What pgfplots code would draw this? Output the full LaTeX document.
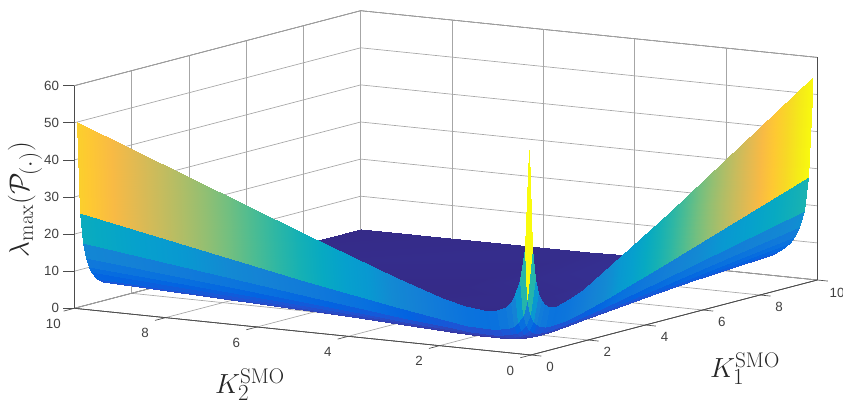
\documentclass[border=0pt]{standalone}
\usepackage{fontspec}
\newfontfamily\ticksf{Liberation Sans}
\usepackage{pgfplots}
\pgfplotsset{compat=1.18}
\pgfplotsset{colormap={parula}{rgb=(0.2081,0.1663,0.5292) rgb=(0.2081,0.2386,0.6771) rgb=(0.1253,0.3242,0.8303) rgb=(0.0117,0.3875,0.8820) rgb=(0.0329,0.4430,0.8720) rgb=(0.0629,0.4737,0.8554) rgb=(0.0779,0.5040,0.8384) rgb=(0.0749,0.5375,0.8263) rgb=(0.0343,0.5966,0.8199) rgb=(0.0239,0.6287,0.8038) rgb=(0.0267,0.6642,0.7607) rgb=(0.0843,0.6928,0.7062) rgb=(0.1801,0.7177,0.6424) rgb=(0.3022,0.7376,0.5712) rgb=(0.4420,0.7481,0.5033) rgb=(0.5709,0.7485,0.4494) rgb=(0.6834,0.7435,0.4044) rgb=(0.7858,0.7356,0.3633) rgb=(0.8824,0.7274,0.3217) rgb=(0.9739,0.7314,0.2666) rgb=(0.9955,0.7861,0.1967) rgb=(0.9697,0.8481,0.1475) rgb=(0.9598,0.9218,0.0948) rgb=(0.9763,0.9831,0.0538)}}
\pgfplotstableread[row sep=\\]{
x y z m\\
.1 .1 55.05 55\\ .1 .2 28.27 55\\ .1 .2 28.27 28.3\\ .1 .3 19.68 28.3\\ .1 .3 19.68 19.7\\ .1 .4 15.64 19.7\\ .1 .4 15.64 15.6\\ .1 .5 13.41 15.6\\ .1 .5 13.41 13.4\\ .1 .6 12.09 13.4\\ .1 .6 12.09 12.1\\ .1 .8 10.82 12.1\\ .1 .8 10.82 10.8\\ .1 1 10.45 10.8\\ .1 1 10.45 10.5\\ .1 1.5 11.14 11.1\\ .1 2 12.73 12.7\\ .1 3 16.82 16.8\\ .1 5 26.09 26.1\\ .1 10 50.1 49\\
.2 .1 28.34 55\\ .2 .2 14.55 55\\ .2 .2 14.55 28.3\\ .2 .3 10.11 28.3\\ .2 .3 10.11 19.7\\ .2 .4 8.02 19.7\\ .2 .4 8.02 15.6\\ .2 .5 6.87 15.6\\ .2 .5 6.87 13.4\\ .2 .6 6.18 13.4\\ .2 .6 6.18 12.1\\ .2 .8 5.51 12.1\\ .2 .8 5.51 10.8\\ .2 1 5.31 10.8\\ .2 1 5.31 10.5\\ .2 1.5 5.62 11.1\\ .2 2 6.40 12.7\\ .2 3 8.44 16.8\\ .2 5 13.06 26.1\\ .2 10 25.28 49\\
.2 .1 28.34 28.3\\ .2 .2 14.55 28.3\\ .2 .2 14.55 14.6\\ .2 .3 10.11 14.6\\ .2 .3 10.11 10.1\\ .2 .4 8.02 10.1\\ .2 .4 8.02 8\\ .2 .5 6.87 8\\ .2 .5 6.87 6.9\\ .2 .6 6.18 6.9\\ .2 .6 6.18 6.2\\ .2 .8 5.51 6.2\\ .2 .8 5.51 5.5\\ .2 1 5.31 5.5\\ .2 1 5.31 5.3\\ .2 1.5 5.62 5.6\\ .2 2 6.40 6.4\\ .2 3 8.44 8.4\\ .2 5 13.06 13.1\\ .2 10 25.28 25.3\\
.3 .1 19.81 28.3\\ .3 .2 10.15 28.3\\ .3 .2 10.15 14.6\\ .3 .3 7.05 14.6\\ .3 .3 7.05 10.1\\ .3 .4 5.58 10.1\\ .3 .4 5.58 8\\ .3 .5 4.76 8\\ .3 .5 4.76 6.9\\ .3 .6 4.27 6.9\\ .3 .6 4.27 6.2\\ .3 .8 3.79 6.2\\ .3 .8 3.79 5.5\\ .3 1 3.63 5.5\\ .3 1 3.63 5.3\\ .3 1.5 3.81 5.6\\ .3 2 4.31 6.4\\ .3 3 5.65 8.4\\ .3 5 8.72 13.1\\ .3 10 16.87 25.3\\
.3 .1 19.81 19.8\\ .3 .2 10.15 19.8\\ .3 .2 10.15 10.2\\ .3 .3 7.05 10.2\\ .3 .3 7.05 7.1\\ .3 .4 5.58 7.1\\ .3 .4 5.58 5.6\\ .3 .5 4.76 5.6\\ .3 .5 4.76 4.8\\ .3 .6 4.27 4.8\\ .3 .6 4.27 4.3\\ .3 .8 3.79 4.3\\ .3 .8 3.79 3.8\\ .3 1 3.63 3.8\\ .3 1 3.63 3.6\\ .3 1.5 3.81 3.8\\ .3 2 4.31 4.3\\ .3 3 5.65 5.7\\ .3 5 8.72 8.7\\ .3 10 16.87 16.9\\
.4 .1 15.82 19.8\\ .4 .2 8.09 19.8\\ .4 .2 8.09 10.2\\ .4 .3 5.61 10.2\\ .4 .3 5.61 7.1\\ .4 .4 4.42 7.1\\ .4 .4 4.42 5.6\\ .4 .5 3.77 5.6\\ .4 .5 3.77 4.8\\ .4 .6 3.36 4.8\\ .4 .6 3.36 4.3\\ .4 .8 2.96 4.3\\ .4 .8 2.96 3.8\\ .4 1 2.82 3.8\\ .4 1 2.82 3.6\\ .4 1.5 2.93 3.8\\ .4 2 3.28 4.3\\ .4 3 4.27 5.7\\ .4 5 6.56 8.7\\ .4 10 12.66 16.9\\
.4 .1 15.82 15.8\\ .4 .2 8.09 15.8\\ .4 .2 8.09 8.1\\ .4 .3 5.61 8.1\\ .4 .3 5.61 5.6\\ .4 .4 4.42 5.6\\ .4 .4 4.42 4.4\\ .4 .5 3.77 4.4\\ .4 .5 3.77 3.8\\ .4 .6 3.36 3.8\\ .4 .6 3.36 3.4\\ .4 .8 2.96 3.4\\ .4 .8 2.96 3\\ .4 1 2.82 3\\ .4 1 2.82 2.8\\ .4 1.5 2.93 2.9\\ .4 2 3.28 3.3\\ .4 3 4.27 4.3\\ .4 5 6.56 6.6\\ .4 10 12.66 12.7\\
.5 .1 13.64 15.8\\ .5 .2 6.97 15.8\\ .5 .2 6.97 8.1\\ .5 .3 4.81 8.1\\ .5 .3 4.81 5.6\\ .5 .4 3.78 5.6\\ .5 .4 3.78 4.4\\ .5 .5 3.21 4.4\\ .5 .5 3.21 3.8\\ .5 .6 2.86 3.8\\ .5 .6 2.86 3.4\\ .5 .8 2.49 3.4\\ .5 .8 2.49 3\\ .5 1 2.35 3\\ .5 1 2.35 2.8\\ .5 1.5 2.40 2.9\\ .5 2 2.68 3.3\\ .5 3 3.45 4.3\\ .5 5 5.27 6.6\\ .5 10 10.14 12.7\\
.5 .1 13.64 13.6\\ .5 .2 6.97 13.6\\ .5 .2 6.97 7\\ .5 .3 4.81 7\\ .5 .3 4.81 4.8\\ .5 .4 3.78 4.8\\ .5 .4 3.78 3.8\\ .5 .5 3.21 3.8\\ .5 .5 3.21 3.2\\ .5 .6 2.86 3.2\\ .5 .6 2.86 2.9\\ .5 .8 2.49 2.9\\ .5 .8 2.49 2.5\\ .5 1 2.35 2.5\\ .5 1 2.35 2.4\\ .5 1.5 2.40 2.4\\ .5 2 2.68 2.7\\ .5 3 3.45 3.5\\ .5 5 5.27 5.3\\ .5 10 10.14 10.1\\
.6 .1 12.36 13.6\\ .6 .2 6.31 13.6\\ .6 .2 6.31 7\\ .6 .3 4.34 7\\ .6 .3 4.34 4.8\\ .6 .4 3.40 4.8\\ .6 .4 3.40 3.8\\ .6 .5 2.88 3.8\\ .6 .5 2.88 3.2\\ .6 .6 2.55 3.2\\ .6 .6 2.55 2.9\\ .6 .8 2.21 2.9\\ .6 .8 2.21 2.5\\ .6 1 2.06 2.5\\ .6 1 2.06 2.4\\ .6 1.5 2.07 2.4\\ .6 2 2.28 2.7\\ .6 3 2.91 3.5\\ .6 5 4.42 5.3\\ .6 10 8.45 10.1\\
.6 .1 12.36 12.4\\ .6 .2 6.31 12.4\\ .6 .2 6.31 6.3\\ .6 .3 4.34 6.3\\ .6 .3 4.34 4.3\\ .6 .4 3.40 4.3\\ .6 .4 3.40 3.4\\ .6 .5 2.88 3.4\\ .6 .5 2.88 2.9\\ .6 .6 2.55 2.9\\ .6 .6 2.55 2.6\\ .6 .8 2.21 2.6\\ .6 .8 2.21 2.2\\ .6 1 2.06 2.2\\ .6 1 2.06 2.1\\ .6 1.5 2.07 2.1\\ .6 2 2.28 2.3\\ .6 3 2.91 2.9\\ .6 5 4.42 4.4\\ .6 10 8.45 8.5\\
.8 .1 11.19 12.4\\ .8 .2 5.69 12.4\\ .8 .2 5.69 6.3\\ .8 .3 3.90 6.3\\ .8 .3 3.90 4.3\\ .8 .4 3.03 4.3\\ .8 .4 3.03 3.4\\ .8 .5 2.54 3.4\\ .8 .5 2.54 2.9\\ .8 .6 2.24 2.9\\ .8 .6 2.24 2.6\\ .8 .8 1.89 2.6\\ .8 .8 1.89 2.2\\ .8 1 1.74 2.2\\ .8 1 1.74 2.1\\ .8 1.5 1.68 2.1\\ .8 2 1.81 2.3\\ .8 3 2.25 2.9\\ .8 5 3.35 4.4\\ .8 10 6.36 8.5\\
.8 .1 11.19 11.2\\ .8 .2 5.69 11.2\\ .8 .2 5.69 5.7\\ .8 .3 3.90 5.7\\ .8 .3 3.90 3.9\\ .8 .4 3.03 3.9\\ .8 .4 3.03 3\\ .8 .5 2.54 3\\ .8 .5 2.54 2.5\\ .8 .6 2.24 2.5\\ .8 .6 2.24 2.2\\ .8 .8 1.89 2.2\\ .8 .8 1.89 1.9\\ .8 1 1.74 1.9\\ .8 1 1.74 1.7\\ .8 1.5 1.68 1.7\\ .8 2 1.81 1.8\\ .8 3 2.25 2.3\\ .8 5 3.35 3.4\\ .8 10 6.36 6.4\\
1 .1 10.92 11.2\\ 1 .2 5.54 11.2\\ 1 .2 5.54 5.7\\ 1 .3 3.77 5.7\\ 1 .3 3.77 3.9\\ 1 .4 2.92 3.9\\ 1 .4 2.92 3\\ 1 .5 2.42 3\\ 1 .5 2.42 2.5\\ 1 .6 2.11 2.5\\ 1 .6 2.11 2.2\\ 1 .8 1.76 2.2\\ 1 .8 1.76 1.9\\ 1 1 1.59 1.9\\ 1 1 1.59 1.7\\ 1 1.5 1.47 1.7\\ 1 2 1.54 1.8\\ 1 3 1.86 2.3\\ 1 5 2.72 3.4\\ 1 10 5.11 6.4\\
1 .1 10.92 10.9\\ 1 .2 5.54 10.9\\ 1 .2 5.54 5.5\\ 1 .3 3.77 5.5\\ 1 .3 3.77 3.8\\ 1 .4 2.92 3.8\\ 1 .4 2.92 2.9\\ 1 .5 2.42 2.9\\ 1 .5 2.42 2.4\\ 1 .6 2.11 2.4\\ 1 .6 2.11 2.1\\ 1 .8 1.76 2.1\\ 1 .8 1.76 1.8\\ 1 1 1.59 1.8\\ 1 1 1.59 1.6\\ 1 1.5 1.47 1.5\\ 1 2 1.54 1.5\\ 1 3 1.86 1.9\\ 1 5 2.72 2.7\\ 1 10 5.11 5.1\\
1.5 .1 11.83 11.8\\ 1.5 .2 5.97 11.8\\ 1.5 .2 5.97 6\\ 1.5 .3 4.03 6\\ 1.5 .3 4.03 4\\ 1.5 .4 3.08 4\\ 1.5 .4 3.08 3.1\\ 1.5 .5 2.53 3.1\\ 1.5 .5 2.53 2.5\\ 1.5 .6 2.17 2.5\\ 1.5 .6 2.17 2.2\\ 1.5 .8 1.75 2.2\\ 1.5 .8 1.75 1.8\\ 1.5 1 1.51 1.8\\ 1.5 1 1.51 1.5\\ 1.5 1.5 1.29 1.3\\ 1.5 2 1.26 1.3\\ 1.5 3 1.39 1.4\\ 1.5 5 1.91 1.9\\ 1.5 10 3.45 3.5\\
2 .1 13.67 13.7\\ 2 .2 6.87 13.7\\ 2 .2 6.87 6.9\\ 2 .3 4.63 6.9\\ 2 .3 4.63 4.6\\ 2 .4 3.51 4.6\\ 2 .4 3.51 3.5\\ 2 .5 2.86 3.5\\ 2 .5 2.86 2.9\\ 2 .6 2.42 2.9\\ 2 .6 2.42 2.4\\ 2 .8 1.91 2.4\\ 2 .8 1.91 1.9\\ 2 1 1.61 1.9\\ 2 1 1.61 1.6\\ 2 1.5 1.29 1.3\\ 2 2 1.18 1.2\\ 2 3 1.20 1.2\\ 2 5 1.52 1.5\\ 2 10 2.64 2.6\\
3 .1 18.23 18.2\\ 3 .2 9.14 18.2\\ 3 .2 9.14 9.1\\ 3 .3 6.12 9.1\\ 3 .3 6.12 6.1\\ 3 .4 4.62 6.1\\ 3 .4 4.62 4.6\\ 3 .5 3.72 4.6\\ 3 .5 3.72 3.7\\ 3 .6 3.14 3.7\\ 3 .6 3.14 3.1\\ 3 .8 2.41 3.1\\ 3 .8 2.41 2.4\\ 3 1 1.99 2.4\\ 3 1 1.99 2\\ 3 1.5 1.46 1.5\\ 3 2 1.24 1.2\\ 3 3 1.11 1.1\\ 3 5 1.19 1.2\\ 3 10 1.85 1.9\\
5 .1 28.44 28.4\\ 5 .2 14.24 28.4\\ 5 .2 14.24 14.2\\ 5 .3 9.51 14.2\\ 5 .3 9.51 9.5\\ 5 .4 7.15 9.5\\ 5 .4 7.15 7.2\\ 5 .5 5.74 7.2\\ 5 .5 5.74 5.7\\ 5 .6 4.80 5.7\\ 5 .6 4.80 4.8\\ 5 .8 3.63 4.8\\ 5 .8 3.63 3.6\\ 5 1 2.94 3.6\\ 5 1 2.94 2.9\\ 5 1.5 2.05 2.1\\ 5 2 1.62 1.6\\ 5 3 1.25 1.3\\ 5 5 1.07 1.1\\ 5 10 1.28 1.3\\
10 .1 54.7 54.7\\ 10 .2 27.4 54.7\\ 10 .2 27.4 27.4\\ 10 .3 18.3 27.4\\ 10 .3 18.3 18.3\\ 10 .4 13.83 18.3\\ 10 .4 13.83 13.8\\ 10 .5 11.08 13.8\\ 10 .5 11.08 11.1\\ 10 .6 9.24 11.1\\ 10 .6 9.24 9.2\\ 10 .8 6.95 9.2\\ 10 .8 6.95 7\\ 10 1 5.57 7\\ 10 1 5.57 5.6\\ 10 1.5 3.76 3.8\\ 10 2 2.86 2.9\\ 10 3 1.99 2\\ 10 5 1.35 1.4\\ 10 10 1.05 1.1\\
}\surfdata
\begin{document}
\begin{tikzpicture}
\path[use as bounding box] (-398.175pt,-36pt) rectangle (234.075pt,266.25pt);
\begin{axis}[at={(0pt,0pt)},anchor=origin,
 x={(21.48pt,5.625pt)},y={(-34.245pt,3.5025pt)},z={(0pt,2.7825pt)},
 xmin=0,xmax=10,ymin=0,ymax=10,zmin=0,zmax=60,
 3d box=background,
 clip=false,
 grid=major,
 major grid style={gray!70,line width=0.5pt},
 xtick={0,2,...,10},ytick={0,2,...,10},ztick={0,10,...,60},
 tick align=outside,major tick length=8pt,
 tick pos=left,
 tick label style={font=\ticksf\fontsize{10}{12}\selectfont,text=black!75},
 x tick label style={yshift=-1.2pt},
 y tick label style={xshift=-2.2pt,yshift=-2.6pt},
 /pgf/number format/assume math mode=true,
 point meta min=1.05,point meta max=55,
 colormap name=parula,
 axis line style={black!70,line width=0.5pt},
 tick style={draw=none},
]
\addplot3[surf,shader=interp,mesh/rows=20,point meta=\thisrow{m}] table[x=x,y=y,z=z] {\surfdata};
\draw[black!70,line width=0.5pt] (axis cs:0,10,0)--(axis cs:0,0,0)--(axis cs:10,0,0);
\draw[black!70,line width=0.5pt] (axis cs:0,10,0)--(axis cs:0,10,60);
\pgfplotsinvokeforeach{0,2,4,6,8,10}{
 \draw[black!70,line width=0.5pt] (axis cs:#1,0,0)--(axis cs:#1,-0.23,0);
 \draw[black!70,line width=0.5pt] (axis cs:0,#1,0)--(axis cs:-0.37,#1,0);
}
\pgfplotsinvokeforeach{0,10,20,30,40,50,60}{
 \draw[black!70,line width=0.5pt] (axis cs:0,10,#1)--([xshift=-8.3pt]axis cs:0,10,#1);
}
\end{axis}
\node[font=\fontsize{22.7}{26}\selectfont,text=black!85] at (160.6pt,-10.1pt) {$K_{1}^{\mathrm{SMO}}$};
\node[font=\fontsize{22.7}{26}\selectfont,text=black!85] at (-210.7pt,-22.4pt) {$K_{2}^{\mathrm{SMO}}$};
\node[font=\fontsize{22.7}{26}\selectfont,text=black!85,rotate=90] at (-379.4pt,116.6pt) {$\lambda_{\max}(\mathcal{P}_{(\cdot)})$};
\end{tikzpicture}
\end{document}
